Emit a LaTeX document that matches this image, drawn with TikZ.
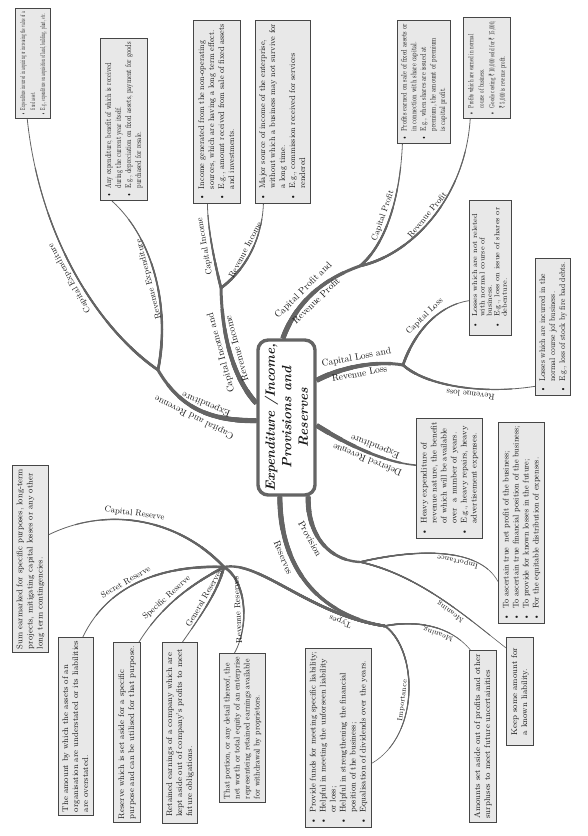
\documentclass[tikz,border=0pt]{standalone}
\usepackage{fontspec}
\usepackage{graphicx}
\usetikzlibrary{calc}
\newfontfamily\rupeefont{Noto Sans}
\newcommand\rs{{\rupeefont ₹}}
\newcommand\bl{\textbullet\hspace{5pt}}
\newcommand\il{\hphantom{\textbullet}\hspace{5pt}}
\newsavebox\bxx
\newcommand\boxtxt[2]{\sbox\bxx{\begin{tabular}{@{}l@{}}#2\end{tabular}}\ifdim\wd\bxx>#1\resizebox{#1}{\height}{\usebox\bxx}\else\usebox\bxx\fi}
\definecolor{brc}{RGB}{100,100,100}
\definecolor{boxf}{RGB}{232,232,232}
\definecolor{boxd}{RGB}{70,70,70}
\definecolor{txt}{RGB}{25,25,25}
\pgfdeclarelayer{bg}
\pgfsetlayers{bg,main}
% tapered curve: p0 p1 p2 p3, width at p0, width at p3
\newcommand\taper[6]{%
 \foreach \tp in {1,0.86,0.72,0.58,0.44,0.3,0.16}{%
  \pgfmathsetmacro\ww{#5+(#6-#5)*\tp}%
  \coordinate (qa) at ($(#1)!\tp!(#2)$);
  \coordinate (qb) at ($(#2)!\tp!(#3)$);
  \coordinate (qc) at ($(#3)!\tp!(#4)$);
  \coordinate (qd) at ($(qa)!\tp!(qb)$);
  \coordinate (qe) at ($(qb)!\tp!(qc)$);
  \coordinate (qf) at ($(qd)!\tp!(qe)$);
  \draw[draw=brc, line width=\ww pt] (#1) .. controls (qa) and (qd) .. (qf);
 }}
% branch thick at p0
\newcommand\branch[7]{\taper{#1}{#2}{#3}{#4}{#5}{#6}\path (#1) .. controls (#2) and (#3) .. (#4) #7;}
% branch thick at p3 (#5 width at p0, #6 width at p3)
\newcommand\rbranch[7]{\taper{#4}{#3}{#2}{#1}{#6}{#5}\path (#1) .. controls (#2) and (#3) .. (#4) #7;}
\tikzset{
 descbox/.style={draw=boxd, fill=boxf, line width=1pt, rotate=90, inner sep=2.5pt,
   font=\fontsize{8.3}{10}\selectfont, anchor=north east},
 centre/.style={draw=brc, line width=3.4pt, rounded corners=10pt, fill=white, rotate=90,
   align=center, font=\fontsize{13.5}{16.5}\selectfont\bfseries\itshape},
 lab1/.style={font=\fontsize{9.5}{11}\selectfont, inner sep=1pt, sloped},
 lab2/.style={font=\fontsize{8.5}{9.5}\selectfont, inner sep=1pt, sloped},
 lab3/.style={font=\fontsize{7.3}{8}\selectfont, inner sep=1pt, sloped},
}
\begin{document}
\begin{tikzpicture}[x=1pt,y=-1pt, allow upside down, every node/.append style={text=txt}]
\begin{pgfonlayer}{bg}
\fill[white] (0,0) rectangle (587,836);
\end{pgfonlayer}
\useasboundingbox (0,0) rectangle (587,836);

% central node
\node[centre, minimum width=151pt, minimum height=57pt] (N0) at (286.5,417.5)
  {Expenditure /Income,\\Provisions and\\Reserves};

% boxes
\node[descbox, minimum width=110pt, minimum height=35pt, font=\fontsize{7.2}{10}\selectfont] (bA) at (15,8)
 {\boxtxt{103pt}{\bl Expenditure incurred in acquiring or increasing the value of a\\\il fixed asset.\\\bl E.g., expenditure on acquisition of land, building, plant, etc.}};
\node[descbox, minimum width=162pt, minimum height=47pt] (bB) at (100,38)
 {\boxtxt{155pt}{\bl Any expenditure, benefit of which is received\\\il during the current year itself.\\\bl E.g., depreciation on fixed assets, payment for goods\\\il purchased for resale.}};
\node[descbox, minimum width=183pt, minimum height=47pt] (bC) at (193,20)
 {\boxtxt{176pt}{\bl Income generated from the non-operating\\\il sources, which are having a long term effect.\\\bl E.g., amount received from sale of fixed assets\\\il and investments.}};
\node[descbox, minimum width=183pt, minimum height=55pt] (bD) at (255,20)
 {\boxtxt{176pt}{\bl Major source of income of the enterprise,\\\il without which a business may not survive for\\\il a long time.\\\bl E.g., commission received for services\\\il rendered}};
\node[descbox, minimum width=123pt, minimum height=52pt, font=\fontsize{8}{9.6}\selectfont] (bE) at (397,20)
 {\boxtxt{116pt}{\bl Profits earned on sale of fixed assets or\\\il in connection with share capital.\\\bl E.g., when shares are issued at\\\il premium, the amount of premium\\\il is capital profit.}};
\node[descbox, minimum width=101pt, minimum height=47pt, font=\fontsize{7.6}{10.5}\selectfont] (bF) at (463,17)
 {\boxtxt{94pt}{\bl Profits which are earned in normal\\\il course of business.\\\bl Goods costing \rs\ 10,000 sold for \rs\ 15,000,\\\il \rs\ 5,000 is revenue profit.}};
\node[descbox, minimum width=135pt, minimum height=40pt, font=\fontsize{7.3}{7.4}\selectfont] (bG) at (469,200)
 {\boxtxt{128pt}{\bl Losses which are not releted\\\il with normal course of\\\il business.\\\bl E.g., loss on issue of shares or\\\il debenture.}};
\node[descbox, minimum width=137pt, minimum height=35pt] (bH) at (535,258)
 {\boxtxt{130pt}{\bl Losses which are incurred in the\\\il normal course jof business.\\\bl E.g., loss of stock by fire bad debts.}};
\node[descbox, minimum width=120pt, minimum height=66pt] (bI) at (416,418)
 {\boxtxt{113pt}{\bl Heavy expenditure of\\\il revenue nature, the benefit\\\il of which will be available\\\il over\ \ a number of years.\\\bl E.g., heavy repairs, heavy\\\il advertisement expenses.}};
\node[descbox, minimum width=201pt, minimum height=46pt] (bJ) at (498,422)
 {\boxtxt{194pt}{\bl To ascertain true\ \ net profit of the business;\\\bl To ascertain true financial position of the business;\\\bl To provide for known losses in the future;\\\bl For the equitable distribution of expenses.}};
\node[descbox, minimum width=108pt, minimum height=27pt] (bK) at (506,637)
 {\boxtxt{101pt}{Keep some amount for\\a known liability.}};
\node[descbox, minimum width=172pt, minimum height=27pt] (bL) at (469,650)
 {\boxtxt{165pt}{Amounts set aside out of profits and other\\surpluses to meet future uncertainities}};
\node[descbox, minimum width=179pt, minimum height=66pt] (bM) at (305,648)
 {\boxtxt{172pt}{\bl Provide funds for meeting specific liability;\\\bl Helpful in meeting the unforseen liability\\\il or loss;\\\bl Helpful in strengthening the financial\\\il position of the business;\\\bl Equalisation of dividends over the years.}};
\node[descbox, minimum width=149pt, minimum height=46pt] (bN) at (219,653)
 {\boxtxt{142pt}{That portion, or any detail thereof, the\\net worth or total equity of an enterprise\\representeing retained earnings available\\for withdrawal by proprietors.}};
\node[descbox, minimum width=181pt, minimum height=35pt] (bO) at (162,642)
 {\boxtxt{174pt}{Retained earnings of a company which are\\kept aside out of company's profits to meet\\future obligations.}};
\node[descbox, minimum width=180pt, minimum height=27pt] (bP) at (113,642)
 {\boxtxt{173pt}{Reserve which is set aside for a specific\\purpose and can be utilised for that purpose.}};
\node[descbox, minimum width=178pt, minimum height=35pt] (bQ) at (58,637)
 {\boxtxt{171pt}{The amount by which the assets of an\\organisation are understated or its liabilities\\are overstated.}};
\node[descbox, minimum width=187pt, minimum height=36pt] (bR) at (12,465)
 {\boxtxt{180pt}{Sum earmarked for specific purposes, long-term\\projects, mitigating capital losses or any other\\long term contingencies.}};

% junctions
\coordinate (J1) at (158,370);
\coordinate (J2) at (221,288);
\coordinate (J3) at (360,266);
\coordinate (J4) at (403,365);
\coordinate (J6) at (360,562);
\coordinate (J7) at (385,626);
\coordinate (J8) at (224,567);

% attachment points
\coordinate (n0L1) at ($(N0.north east)!0.52!(N0.north west)$);
\coordinate (n0L2) at ($(N0.north east)!0.41!(N0.north west)$);
\coordinate (n0T)  at ($(N0.north east)!0.44!(N0.south east)$);
\coordinate (n0R1) at ($(N0.south east)!0.265!(N0.south west)$);
\coordinate (n0R2) at ($(N0.south east)!0.55!(N0.south west)$);
\coordinate (n0B1) at ($(N0.north west)!0.39!(N0.south west)$);
\coordinate (n0B2) at ($(N0.north west)!0.86!(N0.south west)$);
\coordinate (Aa) at ($(bA.north west)!0.34!(bA.south west)$);
\coordinate (Ba) at ($(bB.north west)!0.25!(bB.south west)$);
\coordinate (Ca) at ($(bC.north west)!0.3!(bC.south west)$);
\coordinate (Da) at ($(bD.north west)!0.15!(bD.south west)$);
\coordinate (Ea) at ($(bE.north west)!0.1!(bE.south west)$);
\coordinate (Fa) at ($(bF.north west)!0.15!(bF.south west)$);
\coordinate (Ga) at ($(bG.north east)!0.74!(bG.north west)$);
\coordinate (Ha) at ($(bH.north east)!0.93!(bH.north west)$);
\coordinate (Ia) at ($(bI.north east)!0.39!(bI.north west)$);
\coordinate (Ja) at ($(bJ.north east)!0.79!(bJ.north west)$);
\coordinate (Ka) at ($(bK.north east)!0.1!(bK.north west)$);
\coordinate (La) at ($(bL.north east)!0.05!(bL.south east)$);
\coordinate (Ma) at ($(bM.south east)!0.64!(bM.south west)$);
\coordinate (Na) at ($(bN.north east)!0.33!(bN.south east)$);
\coordinate (Oa) at ($(bO.north east)!0.57!(bO.south east)$);
\coordinate (Pa) at ($(bP.north east)!0.93!(bP.south east)$);
\coordinate (Qa) at ($(bQ.north east)!0.69!(bQ.south east)$);
\coordinate (Ra) at ($(bR.south east)!0.37!(bR.south west)$);

\begin{pgfonlayer}{bg}
% expenditure
\branch{n0L1}{210,421}{180,408}{J1}{5.5}{3}
 {node[lab1, pos=0.5, above=3pt] (t1a) {Capital and Revenue}
  node[lab1, pos=0.45, below=3pt] (t1b) {Expenditure}}
\branch{J1}{100,330}{40,240}{Aa}{3}{0.8}
 {node[lab2, pos=0.5, above=2pt] (t1c) {Capital Expenditure}}
\branch{J1}{170,310}{155,240}{Ba}{3}{0.8}
 {node[lab2, pos=0.5, above=2pt] (t1d) {Revenue Expenditure}}
% income
\branch{n0L2}{235,380}{222,340}{J2}{5.5}{3}
 {node[lab1, pos=0.55, above=3pt] (t2a) {Capital Income and}
  node[lab1, pos=0.55, below=3pt] (t2b) {Revenue Income}}
\branch{J2}{214,260}{208,230}{Ca}{3}{0.8}
 {node[lab2, pos=0.5, above=2pt] (t2c) {Capital Income}}
\branch{J2}{245,270}{262,240}{Da}{3}{0.8}
 {node[lab2, pos=0.5, above=2pt] (t2d) {Revenue Income}}
% profit
\branch{n0T}{295,305}{320,280}{J3}{5.5}{3}
 {node[lab1, pos=0.48, above=3pt] (t3a) {Capital Profit and}
  node[lab1, pos=0.5, below=3pt] (t3b) {Revenue Profit}}
\branch{J3}{385,245}{400,200}{Ea}{3}{0.8}
 {node[lab2, pos=0.5, above=2pt] (t3c) {Capital Profit}}
\branch{J3}{410,255}{465,200}{Fa}{3}{0.8}
 {node[lab2, pos=0.5, above=2pt] (t3d) {Revenue Profit}}
% loss
\branch{n0R1}{340,368}{375,360}{J4}{5.5}{3}
 {node[lab1, pos=0.5, above=3pt] (t4a) {Capital Loss and}
  node[lab1, pos=0.5, below=3pt] (t4b) {Revenue Loss}}
\branch{J4}{415,330}{440,305}{Ga}{3}{0.8}
 {node[lab2, pos=0.5, above=2pt] (t4c) {Capital Loss}}
\rbranch{Ha}{480,395}{425,385}{J4}{0.8}{3}
 {node[lab2, pos=0.4, above=2pt] (t4d) {Revenue loss}}
% deferred
\rbranch{Ia}{380,462}{340,440}{n0R2}{1.6}{5.5}
 {node[lab1, pos=0.42, above=3pt] (t5a) {Deferred Revenue}
  node[lab1, pos=0.4, below=3pt] (t5b) {Expenditure}}
% provision
\branch{n0B2}{307,530}{325,560}{J6}{5.5}{2.4}
 {node[lab1, pos=0.42, below=3pt] (t6a) {Provision}}
\rbranch{Ja}{480,548}{420,548}{J6}{0.6}{1.8}
 {node[lab3, pos=0.4, above=1pt] (t6b) {Importance}}
\rbranch{Ka}{470,620}{420,575}{J6}{0.6}{1.8}
 {node[lab3, pos=0.42, above=1pt] (t6c) {Meaning}}
% reserves
\branch{n0B1}{280,570}{320,615}{J7}{5.5}{2.6}
 {node[lab1, pos=0.3, below=3pt] (t7a) {Reserves}}
\rbranch{La}{450,625}{415,620}{J7}{0.6}{1.8}
 {node[lab3, pos=0.4, above=1pt] (t7b) {Meaning}}
\rbranch{Ma}{420,735}{418,650}{J7}{0.6}{1.8}
 {node[lab3, pos=0.45, above=1pt] (t7c) {Importance}}
\branch{J7}{310,615}{260,560}{J8}{2.6}{2.4}
 {node[lab2, pos=0.2, above=2pt] (t7d) {Types}}
\rbranch{Ra}{110,505}{180,520}{J8}{0.8}{2.8}
 {node[lab2, pos=0.45, above=2pt] (t8a) {Capital Reserve}}
\rbranch{Qa}{110,580}{170,565}{J8}{0.8}{2.8}
 {node[lab2, pos=0.4, above=2pt] (t8b) {Secret Reserve}}
\rbranch{Pa}{165,600}{200,580}{J8}{0.8}{2.8}
 {node[lab2, pos=0.38, above=2pt] (t8c) {Specific Reserve}}
\rbranch{Oa}{205,610}{218,590}{J8}{0.8}{2.8}
 {node[lab2, pos=0.5, above=2pt] (t8d) {General Reserves}}
\rbranch{Na}{250,625}{246,580}{J8}{0.8}{2.8}
 {node[lab2, pos=0.45, above=2pt] (t8e) {Revenue Reserves}}
\end{pgfonlayer}
\end{tikzpicture}
\end{document}
